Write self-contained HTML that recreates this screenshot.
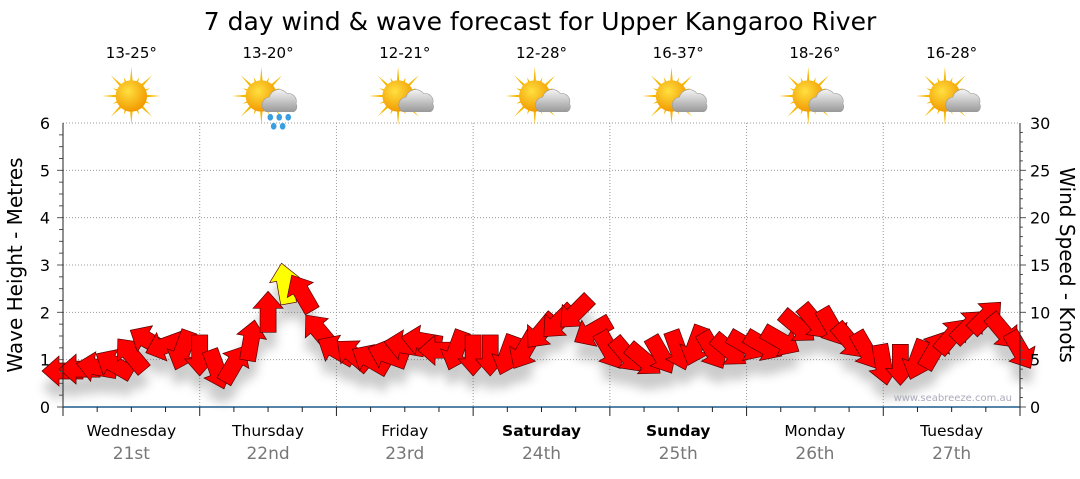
<!DOCTYPE html>
<html><head><meta charset="utf-8"><style>
body{margin:0;background:#fff;font-family:"DejaVu Sans","Liberation Sans",sans-serif}
svg text{font-family:"DejaVu Sans","Liberation Sans",sans-serif}
</style></head><body>
<svg id="c" width="1080" height="475" xmlns="http://www.w3.org/2000/svg">
<defs>
<filter id="sh" x="-50%" y="-50%" width="200%" height="200%"><feGaussianBlur stdDeviation="5"/></filter>
<radialGradient id="sun" cx="40%" cy="35%" r="65%"><stop offset="0" stop-color="#ffe040"/><stop offset="1" stop-color="#f29a00"/></radialGradient>
<linearGradient id="cl" x1="0" y1="0" x2="0" y2="1"><stop offset="0" stop-color="#f4f4f4"/><stop offset="1" stop-color="#9a9a9a"/></linearGradient>
</defs>
<text x="540" y="30" font-size="25" text-anchor="middle">7 day wind &amp; wave forecast for Upper Kangaroo River</text>
<g id="grid"></g><g id="icons"></g><g id="shadow" filter="url(#sh)" opacity="0.3"></g><g id="arrows"></g><g id="axes"></g>
<text x="1012" y="401" font-size="10" fill="#aab" text-anchor="end">www.seabreeze.com.au</text>
<text transform="translate(22,265) rotate(-90)" font-size="20" text-anchor="middle">Wave Height - Metres</text>
<text transform="translate(1060,265) rotate(90)" font-size="20" text-anchor="middle">Wind Speed - Knots</text>
</svg>
<script>
const days=["Wednesday","Thursday","Friday","Saturday","Sunday","Monday","Tuesday"];
const dates=["21st","22nd","23rd","24th","25th","26th","27th"];
const bold=[false,false,false,true,true,false,false];
const temps=["13-25°","13-20°","12-21°","12-28°","16-37°","18-26°","16-28°"];
const icons=["sun","rain","cloud","cloud","cloud","cloud","cloud"];
const leftTicks=[0,1,2,3,4,5,6];
const rightTicks=[0,5,10,15,20,25,30];
const windSpeed=[3.8,4,4.2,4.5,5.5,7,6.5,6,
5.5,4,4.5,7,10,13,12,8,
6,5.5,5,5.5,6.5,7,6,6,
5.5,5.5,5.5,6,8,9,10,8,
6,5.5,5,5.5,6,6.5,6,6,
6.5,6.5,7,8.5,9,8.5,7,6,
4.5,4.5,5,6,7.5,8.5,9.5,8,6];
const windDir=[270,270,280,300,320,300,250,200,
180,160,30,10,0,350,330,320,
300,310,300,290,280,280,270,200,
180,180,200,210,220,225,225,240,
150,140,130,150,160,200,150,130,
120,120,120,130,140,150,140,150,
170,180,200,30,40,45,45,140,150];
const X0=63,X1=1020,Y0=407,Y1=123,HOURS=168;
const xH=h=>X0+(X1-X0)*h/HOURS;
const yM=m=>Y0-(Y0-Y1)*m/6;
const yK=k=>Y0-(Y0-Y1)*k/30;
const NS="http://www.w3.org/2000/svg";
function mk(t,a,p){const e=document.createElementNS(NS,t);for(const k in a)e.setAttribute(k,a[k]);(p||document.getElementById('c')).appendChild(e);return e;}
const grid=document.getElementById('grid'),axes=document.getElementById('axes'),ic=document.getElementById('icons');
leftTicks.forEach((v,i)=>{
 if(v>0){const l=mk('line',{x1:X0,x2:X1,y1:yM(v),y2:yM(v),stroke:'#999','stroke-dasharray':'1,2'},grid);}
 const t=mk('text',{x:50,y:yM(v)+6,'font-size':16,'text-anchor':'end'},axes);t.textContent=v;
 
});
for(let m=0;m<6;m+=0.25){mk('line',{x1:X0-(m%1===0?6:4),x2:X0,y1:yM(m),y2:yM(m),stroke:'#555'},axes);}
rightTicks.forEach(v=>{const t=mk('text',{x:1030,y:yK(v)+6,'font-size':16},axes);t.textContent=v;
 });
for(let k=0;k<30;k+=1){mk('line',{x1:X1,x2:X1+(k%5===0?6:3),y1:yK(k),y2:yK(k),stroke:'#555'},axes);}
mk('line',{x1:X0,x2:X0,y1:Y1,y2:Y0,stroke:'#222'},axes);
mk('line',{x1:X1,x2:X1,y1:Y1,y2:Y0,stroke:'#222'},axes);
mk('line',{x1:X0,x2:X1,y1:Y0,y2:Y0,stroke:'#1f5b8c','stroke-width':1.5},axes);
for(let h=0;h<=HOURS;h+=6){mk('line',{x1:xH(h),x2:xH(h),y1:Y0,y2:Y0+(h%24===0?9:5),stroke:'#222'},axes);}
days.forEach((d,i)=>{
 const cx=xH(i*24+12);
 if(i>0){const g=mk('line',{x1:xH(i*24),x2:xH(i*24),y1:Y1,y2:Y0,stroke:'#999','stroke-dasharray':'1,2'},grid);}
 let t=mk('text',{x:cx,y:436,'font-size':15.5,'text-anchor':'middle','font-weight':bold[i]?'bold':'normal'},axes);t.textContent=d;
 
 t=mk('text',{x:cx,y:459,'font-size':17,'text-anchor':'middle',fill:'#777'},axes);t.textContent=dates[i];
 
 t=mk('text',{x:cx,y:58,'font-size':15,'text-anchor':'middle'},ic);t.textContent=temps[i];
 
 const g=mk('g',{transform:`translate(${cx},${96}) scale(1.12)`},ic);
 
 const sx=icons[i]==='sun'?0:-6;
 for(let a=0;a<16;a++){const r=a%2?18:26;const an=a*Math.PI/8;mk('polygon',{points:`${sx+Math.cos(an-0.12)*11},${Math.sin(an-0.12)*11} ${sx+Math.cos(an)*r},${Math.sin(an)*r} ${sx+Math.cos(an+0.12)*11},${Math.sin(an+0.12)*11}`,fill:'#f5b800'},g);}
 mk('circle',{cx:sx,cy:0,r:14,fill:'url(#sun)'},g);
 if(icons[i]!=='sun'){mk('path',{d:'M-2,14 a7,7 0 0 1 3,-13 a9,9 0 0 1 16,-3 a7,7 0 0 1 8,9 a5,5 0 0 1 -2,7 z',fill:'url(#cl)',stroke:'#999','stroke-width':0.5},g);}
 if(icons[i]==='rain'){[[2,19],[10,19],[18,19],[5,27],[13,27]].forEach(p=>mk('ellipse',{cx:p[0],cy:p[1],rx:2.5,ry:3,fill:'#3a9fe0'},g));}
});
const sh=document.getElementById('shadow'),ar=document.getElementById('arrows');
const shape="M-8,20 L-8,-4 L-15,-4 L0,-21 L15,-4 L8,-4 L8,20 Z";
windSpeed.forEach((k,i)=>{
 const x=xH(i*3),y=yK(k);
 const s=mk('path',{d:shape,transform:`translate(${x},${y+16}) rotate(${windDir[i]})`,fill:'#555'},sh);
 
 const a=mk('path',{d:shape,transform:`translate(${x},${y}) rotate(${windDir[i]})`,fill:k>12?'#ffff00':'#ff0000',stroke:'#500','stroke-width':0.7},ar);
 
});
</script>
</body></html>
